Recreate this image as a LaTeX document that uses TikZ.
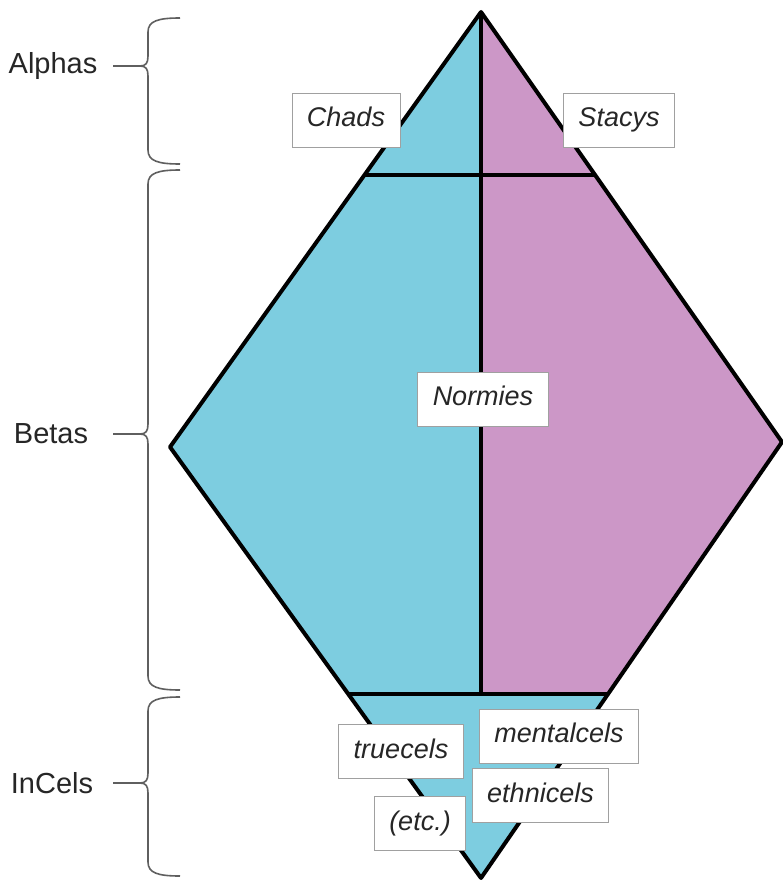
\documentclass[tikz,border=0pt]{standalone}
\usepackage{fontspec}
\setmainfont{Liberation Sans}
\definecolor{celblue}{RGB}{125, 205, 224}
\definecolor{celpink}{RGB}{204, 151, 199}
\definecolor{bracegray}{RGB}{95, 95, 95}
\definecolor{tagline}{RGB}{160, 160, 160}
\usetikzlibrary{calc}

\tikzset{
  tag/.style={draw=tagline, fill=white, line width=0.8pt, font=\fontsize{27}{30}\selectfont\itshape, text=black!85,
    inner xsep=15pt, inner ysep=0pt, minimum height=54pt, text height=19pt, text depth=6pt},
  level/.style={font=\fontsize{29}{32}\selectfont, text=black!85, inner sep=0pt},
  edge/.style={line width=4pt, line join=round},
  bracket/.style={draw=bracegray, line width=1.6pt},
}

\begin{document}
\begin{tikzpicture}[x=1pt, y=-1pt]
  \useasboundingbox[fill=white] (0,0) rectangle (782,880);

  % corners of the diamond
  \coordinate (top) at (481,12);
  \coordinate (west) at (170,447);
  \coordinate (east) at (782,442);
  \coordinate (bottom) at (481,878);
  \coordinate (alphaW) at (364.5,175);
  \coordinate (alphaM) at (481,175);
  \coordinate (alphaE) at (595,175);
  \coordinate (incelW) at (348,694);
  \coordinate (incelM) at (481,694);
  \coordinate (incelE) at (608,694);

  % fills
  \fill[celblue] (top) -- (west) -- (bottom) -- (incelE) -- (incelM) -- cycle;
  \fill[celpink] (top) -- (east) -- (incelE) -- (incelM) -- cycle;

  % outline and dividers
  \draw[edge] (top) -- (west) -- (bottom) -- (east) -- cycle;
  \draw[edge] (top) -- (incelM);
  \draw[edge] (alphaW) -- (alphaE);
  \draw[edge] (incelW) -- (incelE);

  % group labels
  \node[level] (alphas) at (53,66) {Alphas};
  \node[level] (betas) at (51,434) {Betas};
  \node[level] (incels) at (52,783) {InCels};
  \coordinate (dashx) at (113,0);
  \coordinate (alphatip) at (140,66);
  \coordinate (betatip) at (140,434);
  \coordinate (inceltip) at (140,783);
  \draw[bracket] (alphas -| dashx) -- (alphatip);
  \draw[bracket] (betas -| dashx) -- (betatip);
  \draw[bracket] (incels -| dashx) -- (inceltip);

  % braces
  \draw[bracket] (180,18) .. controls (158,18) and (148,21) .. (148,32) -- (148,56)
    .. controls (148,63) and (146,66) .. (alphatip) .. controls (146,66) and (148,69) .. (148,76)
    -- (148,150) .. controls (148,161) and (158,164) .. (180,164);
  \draw[bracket] (180,170) .. controls (158,170) and (148,173) .. (148,184) -- (148,424)
    .. controls (148,431) and (146,434) .. (betatip) .. controls (146,434) and (148,437) .. (148,444)
    -- (148,676) .. controls (148,687) and (158,690) .. (180,690);
  \draw[bracket] (180,697) .. controls (158,697) and (148,700) .. (148,711) -- (148,773)
    .. controls (148,780) and (146,783) .. (inceltip) .. controls (146,783) and (148,786) .. (148,793)
    -- (148,862) .. controls (148,873) and (158,876) .. (180,876);

  % top
  \node[tag] (chads) at (346,120) {Chads};
  \node[tag] (stacys) at (619,120) {Stacys};

  % middle
  \node[tag] (normies) at (483,399) {Normies};

  % bottom
  \node[tag] (truecels) at (401,751.5) {truecels};
  \node[tag] (mentalcels) at (559,736) {mentalcels};
  \node[tag] (ethnicels) at (540.5,795.5) {ethnicels};
  \node[tag] (etc) at (420,823.5) {(etc.)};
\end{tikzpicture}
\end{document}
